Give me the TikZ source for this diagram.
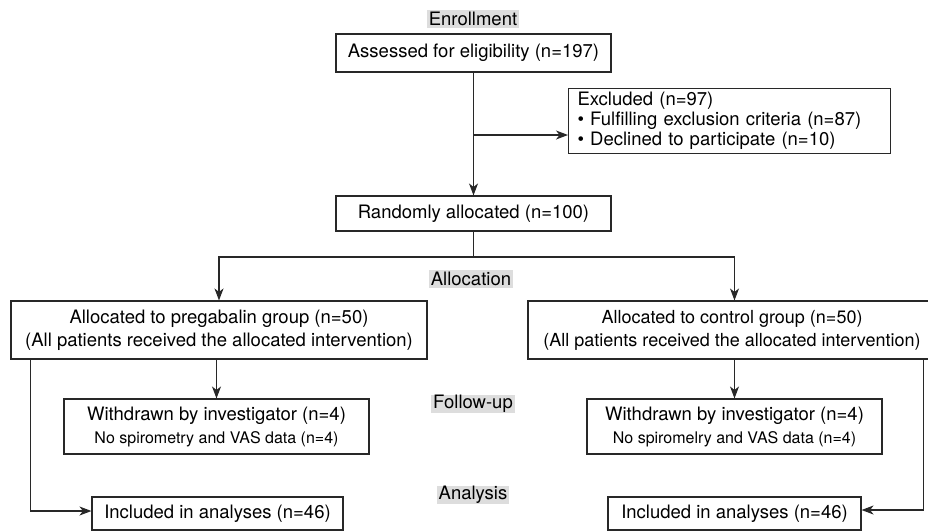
\documentclass[tikz,border=0pt]{standalone}
\usepackage{fontspec}
\setmainfont{TeX Gyre Heros}
\usetikzlibrary{arrows.meta}
\definecolor{stagegray}{RGB}{221,221,221}
\definecolor{linegray}{RGB}{40,40,40}

\begin{document}
\begin{tikzpicture}[x=1pt,y=-1pt,font=\fontsize{18.5}{23}\selectfont]
\useasboundingbox (0,0) rectangle (928,531);

%the grey stage labels down the middle
\begin{scope}[every node/.style={fill=stagegray,inner xsep=2pt,inner ysep=0pt,minimum height=18pt}]
    \node (enrol) at (473,19) {Enrollment};
    \node (alloc) at (471,279) {Allocation};
    \node (follow) at (473,404) {Follow-up};
    \node (analys) at (473,495) {Analysis};
\end{scope}

%all the boxes, sizes are set by hand so they line up
\begin{scope}[every node/.style={draw=linegray,line width=1.1pt,align=center,inner sep=0pt}]
    \node[minimum width=275pt,minimum height=38pt] (assess) at (473.5,53) {Assessed for eligibility (n=197)};
    \node[anchor=north west,text width=304pt,inner xsep=9pt,minimum height=65pt,align=left,
          font=\fontsize{18.5}{20}\selectfont] (excl) at (568,88)
          {Excluded (n=97)\\• Fulfilling exclusion criteria (n=87)\\• Declined to participate (n=10)};
    \node[minimum width=275pt,minimum height=35pt] (random) at (473.5,213.5) {Randomly allocated (n=100)};

    %the two groups
    \node[minimum width=416pt,minimum height=58pt] (preg) at (219,330)
          {Allocated to pregabalin group (n=50)\\(All patients received the allocated intervention)};
    %right box runs off the page, as in the original
    \node[minimum width=408pt,minimum height=58pt,font=\fontsize{18}{23}\selectfont] (ctrl) at (732,330)
          {Allocated to control group (n=50)\\(All patients received the allocated intervention)};

    \node[minimum width=305pt,minimum height=55pt] (wdpreg) at (216.5,426.5)
          {Withdrawn by investigator (n=4)\\\fontsize{16}{19}\selectfont No spirometry and VAS data (n=4)};
    \node[minimum width=295pt,minimum height=55pt] (wdctrl) at (734.5,426.5)
          {Withdrawn by investigator (n=4)\\\fontsize{16}{19}\selectfont No spiromelry and VAS data (n=4)};

    \node[minimum width=251pt,minimum height=33pt] (inclpreg) at (217.5,513.5) {Included in analyses (n=46)};
    \node[minimum width=253pt,minimum height=33pt] (inclctrl) at (734.5,513.5) {Included in analyses (n=46)};
\end{scope}

%points where the lines split off
\coordinate (split) at (473.5,135);
\coordinate (fork) at (473.5,257);

%straight arrows
\begin{scope}[>={Stealth[length=12pt,width=9pt,inset=3.5pt]},
              every edge/.style={draw=linegray,line width=1.1pt}]
    \path [->] (assess) edge (random);
    \path [->] (split) edge (split -| excl.west);
    \path (random) edge (fork);
    \path [->] (preg.south -| wdpreg.north) edge (wdpreg);
    \path [->] (ctrl.south -| wdctrl.north) edge (wdctrl);
\end{scope}

%elbow arrows
\begin{scope}[>={Stealth[length=12pt,width=9pt,inset=3.5pt]},draw=linegray,line width=1.1pt]
    \draw [->] (fork) -| (preg);
    \draw [->] (fork) -| (ctrl.north -| wdctrl.north);
    \draw [->] ([xshift=20pt]preg.south west) |- ([yshift=2.5pt]inclpreg.west);
    \draw [->] ([xshift=-13pt]ctrl.south east) |- ([yshift=3.5pt]inclctrl.east);
\end{scope}
\end{tikzpicture}
\end{document}
